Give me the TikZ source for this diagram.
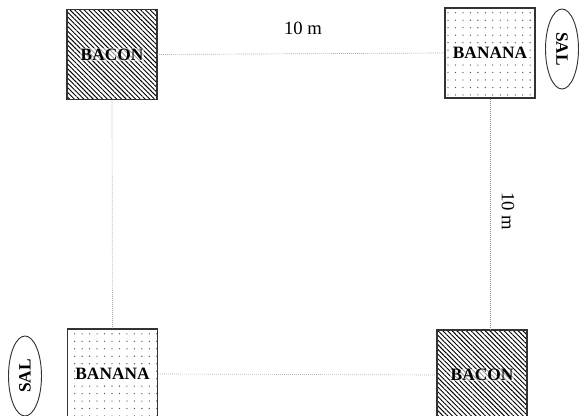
\documentclass[tikz,border=0pt]{standalone}
\usepackage{fontspec}
\setmainfont{Liberation Serif}
\usepackage{tikz}
\usetikzlibrary{patterns.meta,shapes.geometric}
\definecolor{edgegray}{HTML}{333333}
\definecolor{linegray}{HTML}{8C8C8C}

\begin{document}
\begin{tikzpicture}[x=0.75pt,y=-0.75pt,
  baconbox/.style={draw=edgegray,line width=0.8pt,minimum size=67.5pt,inner sep=0pt,
    pattern={Lines[angle=-45,distance=2.5pt,line width=0.7pt]}},
  bananabox/.style={draw=edgegray,line width=0.8pt,minimum size=67.5pt,inner sep=0pt,
    pattern={Dots[distance=5.6pt,radius=0.5pt]},pattern color=black!70},
  lbl/.style={inner sep=0.5pt,font=\fontsize{13}{15}\selectfont\bfseries},
  salt/.style={ellipse,draw=edgegray,line width=0.7pt,minimum width=24.75pt,minimum height=60pt,inner sep=0pt,
    font=\fontsize{13}{15}\selectfont\bfseries},
  dist/.style={font=\fontsize{14}{16}\selectfont,inner sep=1pt},
  ln/.style={draw=linegray,densely dotted,line width=0.5pt}]
\useasboundingbox (0,0) rectangle (579,416);

\node[baconbox]  (bacon1)  at (112,54.5) {};
\node[bananabox] (banana1) at (490,53)   {};
\node[bananabox] (banana2) at (112.5,374){};
\node[baconbox]  (bacon2)  at (482,375)  {};
\node[lbl,fill=white,fill opacity=0.6,text opacity=1] (t1) at (bacon1)  {BACON};
\node[lbl,fill=white] (t2) at (banana1) {BANANA};
\node[lbl,fill=white] (t3) at (banana2) {BANANA};
\node[lbl,fill=white,fill opacity=0.6,text opacity=1] (t4) at (bacon2)  {BACON};

\node[salt] (sal1) at (562,49)  {\rotatebox{-90}{SAL}};
\node[salt] (sal2) at (25,376)  {\rotatebox{90}{SAL}};

\draw[ln] (bacon1.east) -- (banana1.west);
\draw[ln] (bacon1.south) -- (banana2.north);
\draw[ln] (banana1.south) -- (banana1.south |- bacon2.north);
\draw[ln] (banana2.east) -- (bacon2.west);

\node[dist] (d1) at (303,28) {10 m};
\node[dist,rotate=-90] (d2) at (508,211) {10 m};
\end{tikzpicture}
\end{document}
